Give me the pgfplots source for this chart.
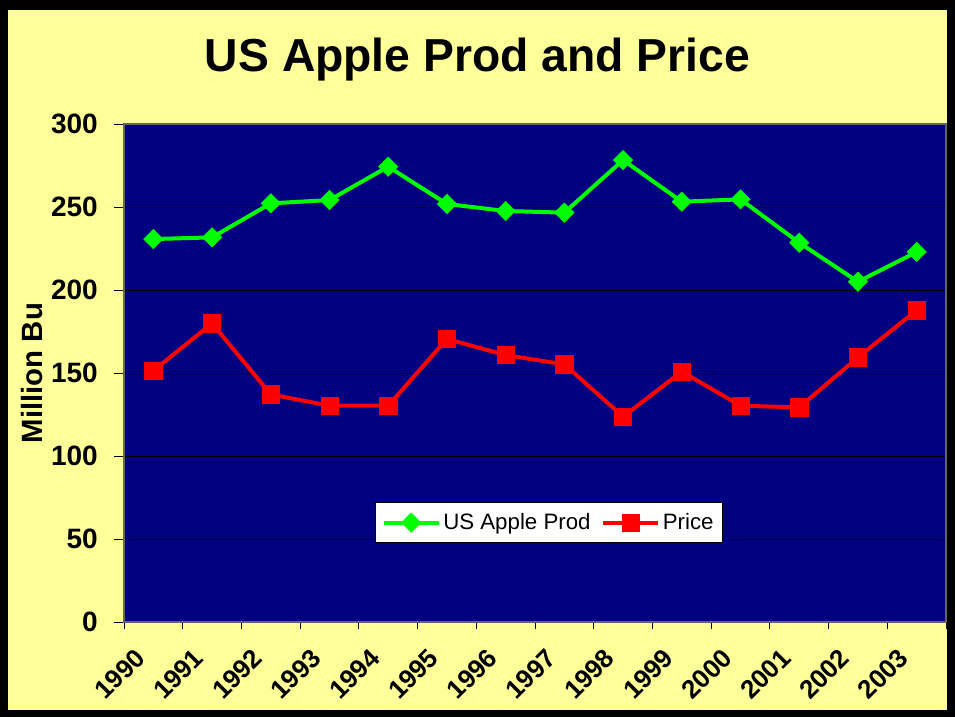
\documentclass[border=0pt]{standalone}
\usepackage{pgfplots}
\pgfplotsset{compat=1.18}
\usepackage{fontspec}
\setmainfont{Liberation Sans}
\definecolor{bgyellow}{RGB}{255,255,153}
\definecolor{navy}{RGB}{0,0,128}
\definecolor{lgreen}{RGB}{0,255,0}
\definecolor{lred}{RGB}{255,0,0}
\begin{document}
\begin{tikzpicture}
\fill[black] (0pt,0pt) rectangle (716.25pt,-537.75pt);
\fill[bgyellow] (6pt,-7.5pt) rectangle (710.25pt,-532.5pt);
\begin{axis}[
  at={(93pt,-466.5pt)}, anchor=south west,
  scale only axis, width=616.5pt, height=373.5pt,
  xmin=-0.5, xmax=13.5, ymin=0, ymax=300,
  axis background/.style={fill=navy},
  axis line style={draw={rgb,255:red,100;green,100;blue,100}, line width=1pt},
  xtick={0,...,13},
  xticklabels={1990,1991,1992,1993,1994,1995,1996,1997,1998,1999,2000,2001,2002,2003},
  xtick style={draw=none},
  minor xtick={-0.5,0.5,...,13.5},
  minor x tick style={draw=black, line width=0.75pt},
  ytick={0,50,...,300},
  ytick style={draw=black, line width=0.75pt},
  tick align=outside,
  major tick length=7.5pt, minor tick length=5pt,
  xtick pos=bottom, ytick pos=left,
  ymajorgrids, grid style={draw=black, line width=0.5pt},
  /pgf/number format/assume math mode=true,
  yticklabel style={font=\fontsize{21}{24}\selectfont\bfseries, anchor=east, inner sep=0pt, xshift=-12pt},
  xticklabel style={font=\fontsize{19.5}{22}\selectfont\bfseries, xshift=-9.75pt, yshift=-16pt, rotate=45, anchor=east, inner sep=0pt},
  ylabel={Million Bu},
  ylabel style={font=\fontsize{22}{26}\selectfont\bfseries, at={(axis description cs:-0.1113,0.5)}, anchor=center},
  title={US Apple Prod and Price},
  title style={font=\fontsize{34.7}{40}\selectfont\bfseries, at={(axis description cs:0.43,1.0884)}, anchor=base},
  legend columns=2,
  legend style={at={(axis description cs:0.517,0.1998)}, anchor=center, draw=black, fill=white, line width=0.75pt,
    font=\fontsize{16.7}{19}\selectfont, inner xsep=5pt, inner ysep=6pt,
    /tikz/every even column/.append style={column sep=6pt}},
  legend image code/.code={\draw[mark repeat=2,mark phase=2,#1] plot coordinates {(0pt,0pt) (20.6pt,0pt) (41.2pt,0pt)};},
]
\addplot[color=lgreen, line width=3pt, mark=square*, mark size=5.1pt, mark options={rotate=45, line width=0.5pt}]
  coordinates {(0,230.7)(1,231.7)(2,252.2)(3,254.2)(4,274.3)(5,251.8)(6,247.6)(7,246.6)(8,278.3)(9,253.2)(10,254.6)(11,228.5)(12,205.0)(13,222.9)};
\addlegendentry{US Apple Prod}
\addplot[color=lred, line width=3pt, mark=square*, mark size=6.5pt, mark options={line width=0.5pt}]
  coordinates {(0,151.4)(1,179.9)(2,137.1)(3,130.3)(4,130.3)(5,170.5)(6,160.8)(7,155.2)(8,123.7)(9,150.8)(10,130.3)(11,129.3)(12,159.4)(13,187.8)};
\addlegendentry{Price}
\end{axis}
\pgfresetboundingbox
\path (0pt,0pt) rectangle (716.25pt,-537.75pt);
\end{tikzpicture}
\end{document}
